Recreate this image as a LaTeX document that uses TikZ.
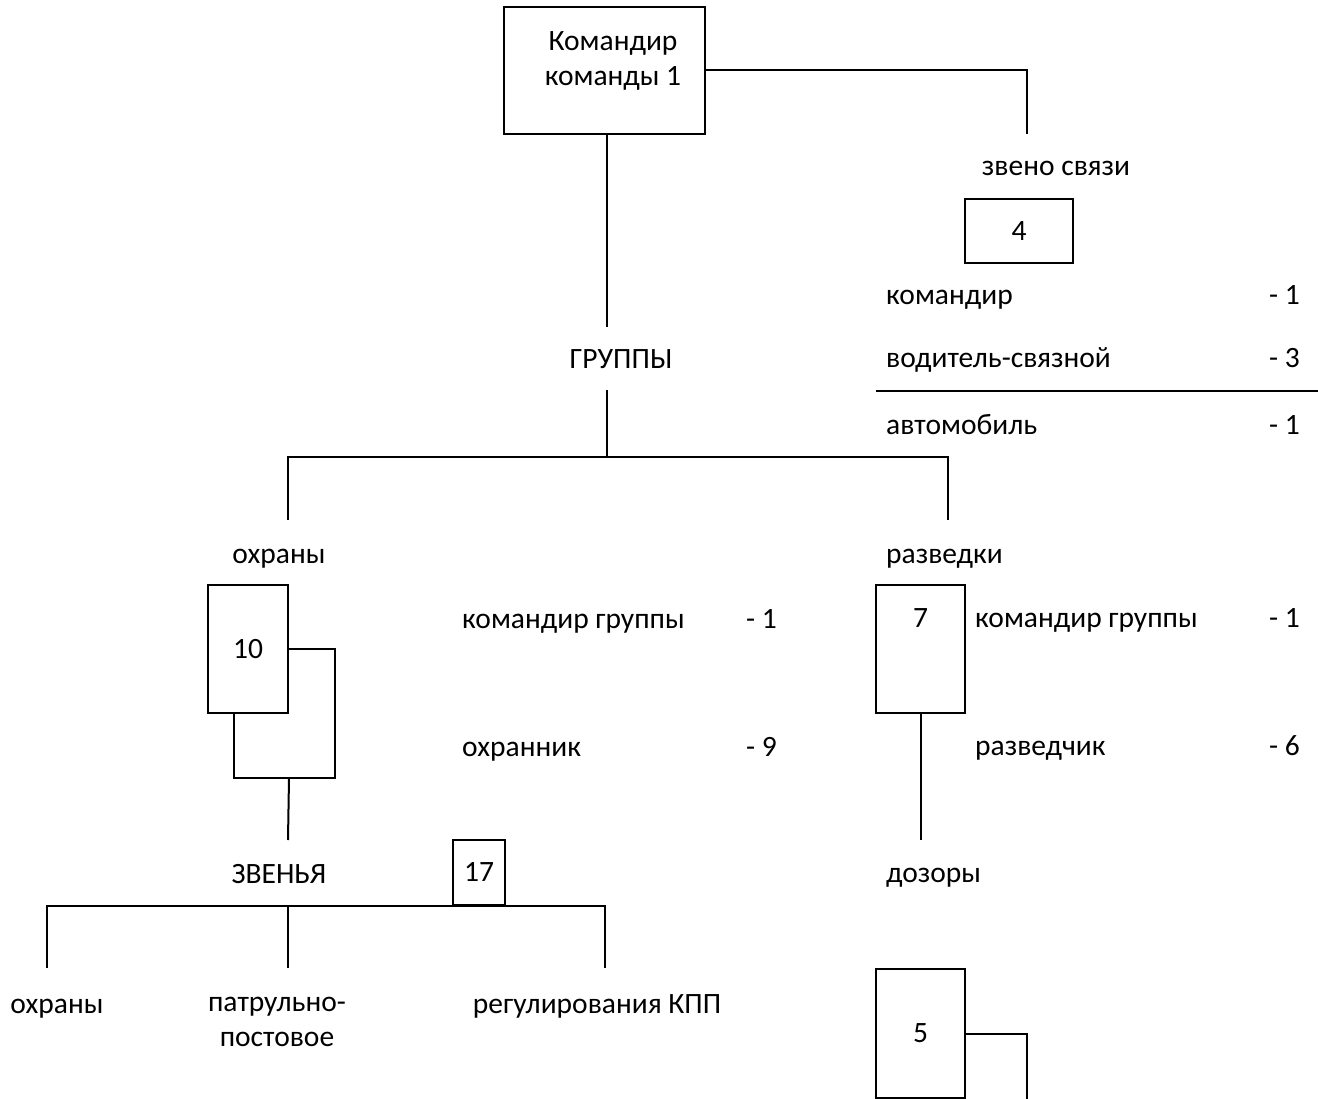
\documentclass[tikz,border=0pt]{standalone}
\usepackage{fontspec}
\setmainfont{Carlito}
\usetikzlibrary{positioning}

\begin{document}
\begin{tikzpicture}[
    x=1pt, y=-1pt,
    every node/.style={font=\fontsize{29.5}{35}\selectfont},
    block/.style={rectangle, draw, line width=2pt, inner sep=0pt},
    txt/.style={inner sep=0pt, anchor=base},
    ltxt/.style={txt, anchor=base west},
    rtxt/.style={txt, anchor=base east},
    link/.style={line width=2pt}
]
\useasboundingbox (0,0) rectangle (1318,1099);

% Commander
\node[block, minimum width=201pt, minimum height=127pt] (cmd) at (604.5,70.5) {};
\node[inner sep=0pt, anchor=north, align=center] (cmdname) at (613,31) {Командир\\команды 1};

% Signal unit
\coordinate (linktop) at (1027,134);
\node[txt] (linkname) at (1056,176) {звено связи};
\node[block, minimum width=108pt, minimum height=64pt] (g4) at (1019,231) {4};
\node[ltxt] (s1) at (886,305) {командир};
\node[rtxt] (s1n) at (1300,305) {- 1};
\node[ltxt] (s2) at (886,368) {водитель-связной};
\node[rtxt] (s2n) at (1300,368) {- 3};
\coordinate (sepL) at (876,391);
\coordinate (sepR) at (1318,391);
\node[ltxt] (s3) at (886,434) {автомобиль};
\node[rtxt] (s3n) at (1300,434) {- 1};

% Groups
\coordinate (grptop) at (607,327);
\node[txt] (groups) at (621,369) {ГРУППЫ};
\coordinate (grpbot) at (607,390);
\coordinate (grpfork) at (607,457);
\coordinate (guardtop) at (288,520);
\coordinate (recontop) at (948,520);
\node[txt] (guard) at (279,563) {охраны};
\node[ltxt] (recon) at (886,563) {разведки};

% Guard group
\node[block, minimum width=80pt, minimum height=128pt] (g10) at (248,649) {10};
\coordinate (loopbr) at (335,778);
\node[ltxt] (gd1) at (462,628) {командир группы};
\node[rtxt] (gd1n) at (777,628) {- 1};
\node[ltxt] (gd2) at (462,756) {охранник};
\node[rtxt] (gd2n) at (777,756) {- 9};

% Recon group
\node[block, minimum width=89pt, minimum height=128pt] (g7) at (920.5,649) {};
\node[txt] (g7num) at (920.5,627) {7};
\node[ltxt] (rc1) at (975,627) {командир группы};
\node[rtxt] (rc1n) at (1300,627) {- 1};
\node[ltxt] (rc2) at (975,755) {разведчик};
\node[rtxt] (rc2n) at (1300,755) {- 6};
\coordinate (doztop) at (920.5,840);
\node[ltxt] (patrols) at (886,882) {дозоры};
\node[block, minimum width=89pt, minimum height=129pt] (g5) at (920.5,1033.5) {5};
\coordinate (g5tail) at (1027,1099);

% Units
\coordinate (unittop) at (288,840);
\node[txt] (units) at (279,883) {ЗВЕНЬЯ};
\node[block, minimum width=52pt, minimum height=65pt] (g17) at (479,872.5) {17};
\coordinate (u1top) at (47,968);
\coordinate (u2top) at (288,968);
\coordinate (u3top) at (605,968);
\node[txt] (u1) at (57,1013) {охраны};
\node[inner sep=0pt, anchor=north, align=center] (u2) at (277,997) {патрульно-\\[0pt]постовое};
\node[txt] (u3) at (597,1013) {регулирования КПП};

% Connectors
\draw[link] (cmd.east) -| (linktop);
\draw[link] (sepL) -- (sepR);
\draw[link] (cmd.south -| grptop) -- (grptop);
\draw[link] (grpbot) -- (grpfork);
\draw[link] (guardtop) -- (guardtop |- grpfork) -- (recontop |- grpfork) -- (recontop);
\draw[link] (g10.east) -| (loopbr) -| ([xshift=27pt]g10.south west);
\draw[link] (g10.east |- loopbr) -- (unittop);
\draw[link] (g7.south) -- (doztop);
\draw[link] (g5.east) -| (g5tail);
\draw[link] (u1top) -- (u1top |- g17.south) -- (u3top |- g17.south) -- (u3top);
\draw[link] (u2top |- g17.south) -- (u2top);

\end{tikzpicture}
\end{document}
